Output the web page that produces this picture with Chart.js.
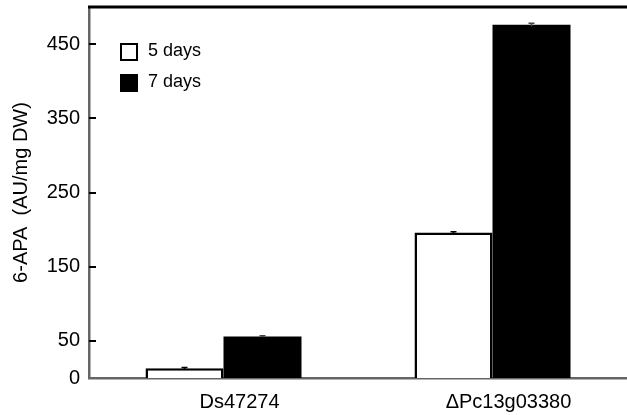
<!DOCTYPE html>
<html>
<head>
<meta charset="utf-8">
<script src="https://cdn.jsdelivr.net/npm/chart.js@4"></script>
<style>
  html, body { margin: 0; padding: 0; background: #fff; }
  #wrap { width: 627px; height: 415px; }
</style>
</head>
<body>
<div id="wrap"><canvas id="myChart"></canvas></div>
<script>
var strains = ['Ds47274', '\u0394Pc13g03380'];
var seriesNames = ['5 days', '7 days'];
var fiveDays = [13, 196];
var sevenDays = [56, 476];
var fiveDaysErr = [1, 1];
var sevenDaysErr = [1, 2];
var yTicks = [0, 50, 150, 250, 350, 450];

var fontFam = '"Liberation Sans", Arial, sans-serif';

// inward ticks, top frame, error bars, legend
var extras = {
  id: 'extras',
  afterDatasetsDraw: function(chart) {
    var ctx = chart.ctx;
    var area = chart.chartArea;
    var y = chart.scales.y;

    ctx.save();
    // error bars
    var errs = [fiveDaysErr, sevenDaysErr];
    chart.data.datasets.forEach(function(ds, i) {
      var meta = chart.getDatasetMeta(i);
      meta.data.forEach(function(bar, j) {
        var top = y.getPixelForValue(ds.data[j] + errs[i][j]);
        var bot = y.getPixelForValue(ds.data[j] - errs[i][j]);
        ctx.strokeStyle = i == 0 ? '#000' : '#444';
        ctx.lineWidth = 1.5;
        ctx.beginPath();
        ctx.moveTo(bar.x, top); ctx.lineTo(bar.x, bot);
        ctx.moveTo(bar.x - 3, top); ctx.lineTo(bar.x + 3, top);
        ctx.stroke();
      });
    });

    // y axis ticks pointing inward
    ctx.strokeStyle = '#000';
    ctx.lineWidth = 2;
    yTicks.forEach(function(v) {
      if (v == 0) return;
      var py = Math.round(y.getPixelForValue(v));
      ctx.beginPath();
      ctx.moveTo(area.left, py);
      ctx.lineTo(area.left + 7, py);
      ctx.stroke();
    });

    // top frame
    ctx.strokeStyle = '#000';
    ctx.lineWidth = 3;
    ctx.beginPath();
    ctx.moveTo(area.left - 1, area.top);
    ctx.lineTo(chart.width, area.top);
    ctx.stroke();

    // legend
    var fills = ['#fff', '#000'];
    ctx.font = '18px ' + fontFam;
    ctx.textBaseline = 'middle';
    ctx.textAlign = 'left';
    seriesNames.forEach(function(name, i) {
      var bx = 121, by = 44 + i * 31;
      ctx.fillStyle = fills[i];
      ctx.fillRect(bx, by, 16, 16);
      ctx.strokeStyle = '#000';
      ctx.lineWidth = 2;
      ctx.strokeRect(bx, by, 16, 16);
      ctx.fillStyle = '#000';
      ctx.fillText(name, bx + 27, by + 7);
    });
    ctx.restore();
  }
};

new Chart(document.getElementById('myChart'), {
  type: 'bar',
  data: {
    labels: strains,
    datasets: [{
      label: seriesNames[0],
      data: fiveDays,
      backgroundColor: '#fff',
      borderColor: '#000',
      borderWidth: 2.5,
      borderSkipped: 'start'
    }, {
      label: seriesNames[1],
      data: sevenDays,
      backgroundColor: '#000',
      borderWidth: 0
    }]
  },
  options: {
    responsive: true,
    maintainAspectRatio: false,
    animation: false,
    layout: { padding: { top: 7, right: 0, left: 0, bottom: 0 } },
    plugins: {
      legend: { display: false },
      tooltip: { enabled: false }
    },
    datasets: {
      bar: { categoryPercentage: 0.58, barPercentage: 1 }
    },
    scales: {
      x: {
        grid: { display: false, drawTicks: false },
        border: { display: true, color: '#666', width: 2.5 },
        ticks: { color: '#000', padding: 12, labelOffset: 16, font: { family: fontFam, size: 20 } },
        afterFit: function(s) { s.height = 37; s.paddingLeft = 0; s.paddingRight = 0; }
      },
      y: {
        min: 0,
        max: 500,
        afterBuildTicks: function(s) {
          s.ticks = yTicks.map(function(v) { return { value: v }; });
        },
        grid: { display: false, drawTicks: false },
        border: { display: true, color: '#666', width: 2.5 },
        ticks: { color: '#000', padding: 9, font: { family: fontFam, size: 20 } },
        title: {
          display: true,
          text: '6-APA  (AU/mg DW)',
          color: '#000',
          font: { family: fontFam, size: 20 },
          padding: { top: 9, bottom: 0 }
        },
        afterFit: function(s) { s.width = 89; s.paddingTop = 0; s.paddingBottom = 0; }
      }
    }
  },
  plugins: [extras]
});
</script>
</body>
</html>
